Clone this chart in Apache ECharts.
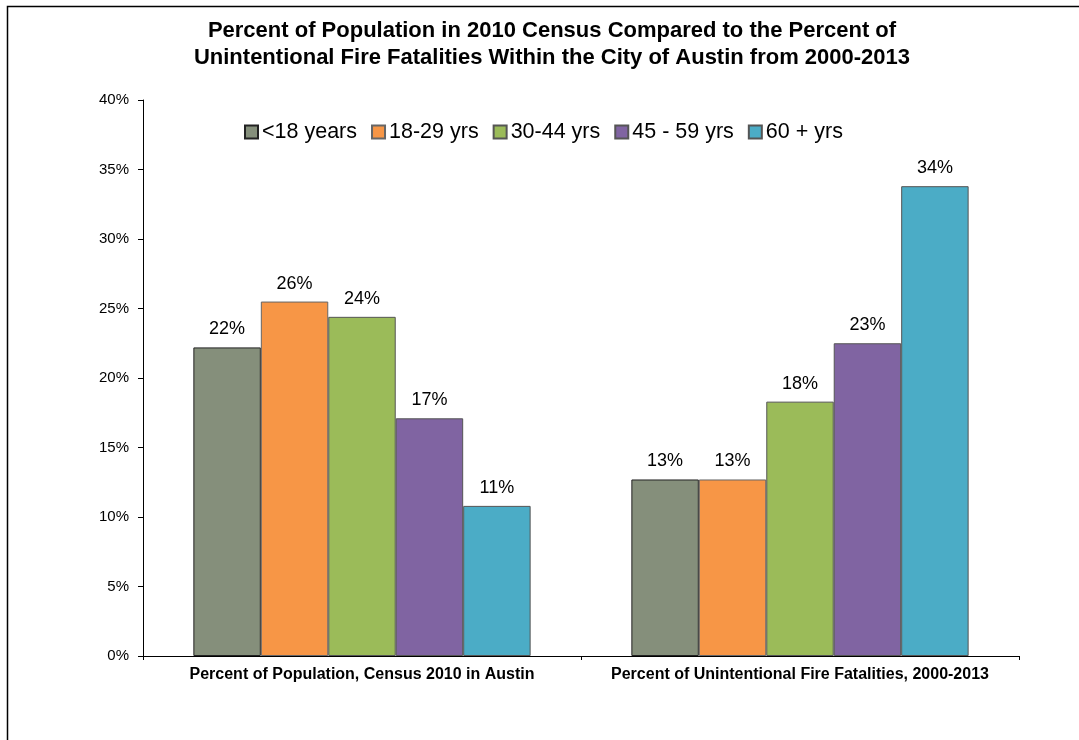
<!DOCTYPE html>
<html>
<head>
<meta charset="utf-8">
<script src="https://cdn.jsdelivr.net/npm/echarts@6/dist/echarts.min.js"></script>
<style>
  html, body { margin: 0; padding: 0; background: #fff; }
  #chart { width: 1079px; height: 740px; }
</style>
</head>
<body>
<div id="chart"></div>
<script>
const categories = ['Percent of Population, Census 2010 in Austin', 'Percent of Unintentional Fire Fatalities, 2000-2013']
const ageGroups = ['<18 years', '18-29 yrs', '30-44 yrs', '45 - 59 yrs', '60 + yrs']
const under18 = [22.2, 12.7]
const age18to29 = [25.5, 12.7]
const age30to44 = [24.4, 18.3]
const age45to59 = [17.1, 22.5]
const age60plus = [10.8, 33.8]
const colors = ['#858f7b', '#f79646', '#9bbb59', '#8064a2', '#4bacc6']
const borders = ['#222', '#666', '#555', '#555', '#555']

const seriesValues = [under18, age18to29, age30to44, age45to59, age60plus]

const chart = echarts.init(document.getElementById('chart'))

chart.setOption({
  animation: false,
  textStyle: { fontFamily: 'Liberation Sans, Arial, sans-serif' },
  title: {
    text: 'Percent of Population in 2010 Census Compared to the Percent of\nUnintentional Fire Fatalities Within the City of Austin from 2000-2013',
    left: 547,
    textAlign: 'center',
    top: 12,
    textStyle: { fontSize: 22, fontWeight: 'bold', color: '#000', lineHeight: 27 }
  },
  legend: {
    top: 116,
    left: 239,
    icon: 'rect',
    itemWidth: 13,
    itemHeight: 13,
    itemGap: 14,
    textStyle: { fontSize: 21.5, color: '#000', padding: [0, 0, 0, -1] },
    data: ageGroups
  },
  grid: { left: 143, right: 60, top: 100, bottom: 84 },
  xAxis: {
    type: 'category',
    data: categories,
    axisLine: { lineStyle: { color: '#000', width: 1 } },
    axisTick: { show: true, alignWithLabel: false, length: 4, lineStyle: { color: '#000' } },
    axisLabel: { interval: 0, fontSize: 16, fontWeight: 'bold', color: '#000', margin: 11 }
  },
  yAxis: {
    type: 'value',
    min: 0,
    max: 40,
    interval: 5,
    splitLine: { show: false },
    axisLine: { show: true, lineStyle: { color: '#000' } },
    axisTick: { show: true, inside: false, length: 5, lineStyle: { color: '#000' } },
    axisLabel: { fontSize: 15, color: '#000', margin: 14, formatter: '{value}%' }
  },
  series: ageGroups.map((name, i) => ({
    name,
    type: 'bar',
    data: seriesValues[i],
    barGap: '0%',
    barCategoryGap: '23%',
    itemStyle: { color: colors[i], borderColor: borders[i], borderWidth: 1 },
    label: {
      show: true,
      position: 'top',
      distance: 9,
      fontSize: 18,
      color: '#000',
      formatter: p => Math.round(p.value) + '%'
    }
  })),
  graphic: [{
    type: 'rect',
    shape: { x: 7.5, y: 6.5, width: 1200, height: 900 },
    style: { fill: 'none', stroke: '#000', lineWidth: 1.5 },
    silent: true
  }]
})
</script>
</body>
</html>
